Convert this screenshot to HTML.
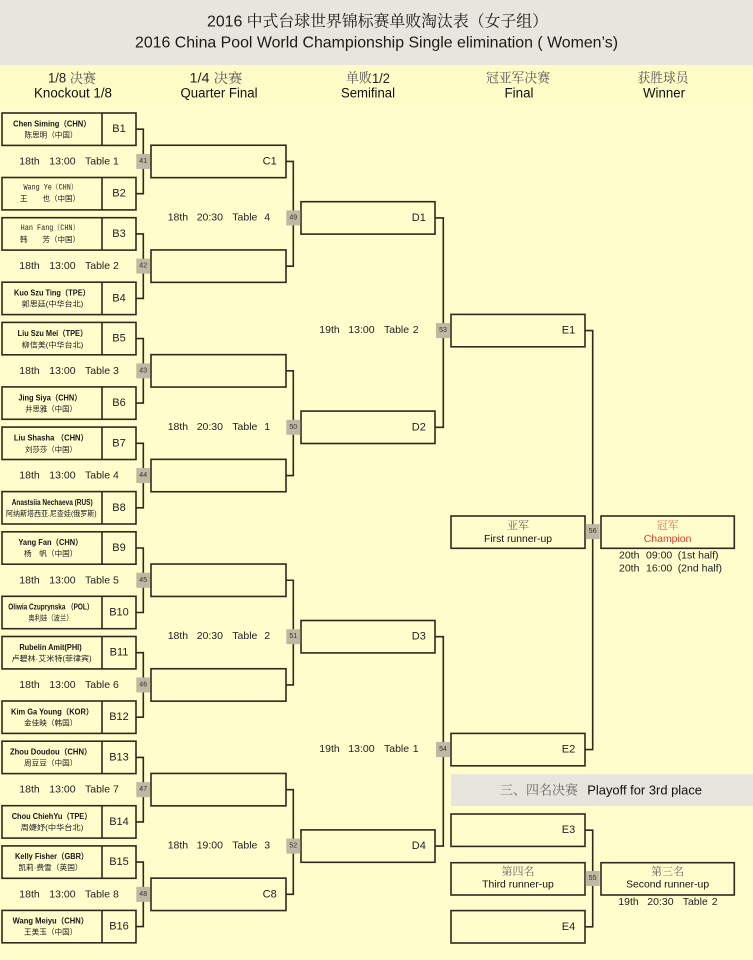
<!DOCTYPE html>
<html><head><meta charset="utf-8">
<style>
html,body{margin:0;padding:0;background:#FFFDCB;}
svg{display:block;}
text{dominant-baseline:central;}
.s{font-family:"Liberation Sans","Noto Sans CJK SC",sans-serif;}
.sf{font-family:"Liberation Sans","Noto Serif CJK SC",serif;}
.n1{font-family:"Liberation Sans","Noto Sans CJK SC",sans-serif;font-weight:bold;font-size:8px;fill:#151515;}
.n2{font-family:"Liberation Sans","Noto Sans CJK SC",sans-serif;font-size:7.5px;fill:#1a1a1a;}
.nm{font-family:"Liberation Mono","Noto Serif CJK SC",monospace;font-size:8px;fill:#222;}
.lb{font-family:"Liberation Sans",sans-serif;font-size:11px;fill:#222;}
.tm{font-family:"Liberation Sans",sans-serif;font-size:10.5px;fill:#222;}
.nb{font-family:"Liberation Sans",sans-serif;font-size:7px;fill:#333;}
.bx{fill:#FFFDCB;stroke:#2d2a1f;stroke-width:1.6;}
.ln{fill:none;stroke:#2d2a1f;stroke-width:1.6;}
.nr{fill:#BFB8A2;}
</style></head>
<body>
<svg width="753" height="960" viewBox="0 0 753 960" xmlns="http://www.w3.org/2000/svg">
<rect x="0" y="0" width="753" height="960" fill="#FFFDCB"/>
<rect x="0" y="0" width="753" height="65" fill="#E8E5DE"/>
<rect x="0" y="65" width="753" height="40" fill="#FEFCC6"/>

<!-- Title -->
<text class="sf" x="207" y="22" font-size="16" fill="#1a1a1a" textLength="341" lengthAdjust="spacingAndGlyphs">2016 中式台球世界锦标赛单败淘汰表（女子组）</text>
<text class="s" x="135" y="43" font-size="16" fill="#1a1a1a" textLength="483" lengthAdjust="spacingAndGlyphs">2016 China Pool World Championship Single elimination ( Women’s)</text>

<!-- Headings -->
<g class="sf" font-size="13.5" text-anchor="middle">
<text x="72" y="78" textLength="48" lengthAdjust="spacingAndGlyphs" fill="#222">1/8 <tspan fill="#555">决赛</tspan></text>
<text x="73" y="93" textLength="78" lengthAdjust="spacingAndGlyphs" fill="#111">Knockout 1/8</text>
<text x="216" y="78" textLength="53" lengthAdjust="spacingAndGlyphs" fill="#222">1/4 <tspan fill="#555">决赛</tspan></text>
<text x="219" y="93" textLength="77" lengthAdjust="spacingAndGlyphs" fill="#111">Quarter Final</text>
<text x="368" y="78" textLength="44" lengthAdjust="spacingAndGlyphs" fill="#555">单败<tspan fill="#222">1/2</tspan></text>
<text x="368" y="93" textLength="54" lengthAdjust="spacingAndGlyphs" fill="#111">Semifinal</text>
<text x="518" y="78" textLength="64" lengthAdjust="spacingAndGlyphs" fill="#555">冠亚军决赛</text>
<text x="519" y="93" textLength="29" lengthAdjust="spacingAndGlyphs" fill="#111">Final</text>
<text x="663" y="78" textLength="51" lengthAdjust="spacingAndGlyphs" fill="#555">获胜球员</text>
<text x="664" y="93" textLength="42" lengthAdjust="spacingAndGlyphs" fill="#111">Winner</text>
</g>

<!-- Level 1 brackets -->
<g class="ln">
<path d="M136 129.2H143.3V193.7H136"/>
<path d="M136 233.9H143.3V298.4H136"/>
<path d="M136 338.6H143.3V403.1H136"/>
<path d="M136 443.3H143.3V507.8H136"/>
<path d="M136 548H143.3V612.5H136"/>
<path d="M136 652.7H143.3V717.2H136"/>
<path d="M136 757.4H143.3V821.9H136"/>
<path d="M136 862.1H143.3V926.6H136"/>
<!-- Level 2 -->
<path d="M286 161.45H293.3V266.15H286"/>
<path d="M286 370.85H293.3V475.55H286"/>
<path d="M286 580.25H293.3V684.95H286"/>
<path d="M286 789.65H293.3V894.35H286"/>
<!-- Level 3 -->
<path d="M435 217.9H443.3V427.3H435"/>
<path d="M435 636.7H443.3V846.1H435"/>
<!-- Level 4 -->
<path d="M585 330.6H592.7V749.6H585"/>
<path d="M585 830.2H592.7V926.8H585"/>
</g>

<!-- B boxes -->
<g class="bx">
<rect x="2" y="113" width="134" height="32.4"/>
<rect x="2" y="177.5" width="134" height="32.4"/>
<rect x="2" y="217.7" width="134" height="32.4"/>
<rect x="2" y="282.2" width="134" height="32.4"/>
<rect x="2" y="322.4" width="134" height="32.4"/>
<rect x="2" y="386.9" width="134" height="32.4"/>
<rect x="2" y="427.1" width="134" height="32.4"/>
<rect x="2" y="491.6" width="134" height="32.4"/>
<rect x="2" y="531.8" width="134" height="32.4"/>
<rect x="2" y="596.3" width="134" height="32.4"/>
<rect x="2" y="636.5" width="134" height="32.4"/>
<rect x="2" y="701" width="134" height="32.4"/>
<rect x="2" y="741.2" width="134" height="32.4"/>
<rect x="2" y="805.7" width="134" height="32.4"/>
<rect x="2" y="845.9" width="134" height="32.4"/>
<rect x="2" y="910.4" width="134" height="32.4"/>
</g>
<g class="ln">
<path d="M102 113V145.4M102 177.5V209.9M102 217.7V250.1M102 282.2V314.6M102 322.4V354.8M102 386.9V419.3M102 427.1V459.5M102 491.6V524M102 531.8V564.2M102 596.3V628.7M102 636.5V668.9M102 701V733.4M102 741.2V773.6M102 805.7V838.1M102 845.9V878.3M102 910.4V942.8"/>
</g>

<!-- C boxes -->
<g class="bx">
<rect x="151" y="145.25" width="135" height="32.4"/>
<rect x="151" y="249.95" width="135" height="32.4"/>
<rect x="151" y="354.65" width="135" height="32.4"/>
<rect x="151" y="459.35" width="135" height="32.4"/>
<rect x="151" y="564.05" width="135" height="32.4"/>
<rect x="151" y="668.75" width="135" height="32.4"/>
<rect x="151" y="773.45" width="135" height="32.4"/>
<rect x="151" y="878.15" width="135" height="32.4"/>
<!-- D boxes -->
<rect x="301" y="201.7" width="134" height="32.4"/>
<rect x="301" y="411.1" width="134" height="32.4"/>
<rect x="301" y="620.5" width="134" height="32.4"/>
<rect x="301" y="829.9" width="134" height="32.4"/>
<!-- E boxes -->
<rect x="451" y="314.4" width="134" height="32.4"/>
<rect x="451" y="733.4" width="134" height="32.4"/>
<rect x="451" y="516" width="134" height="32.3"/>
<rect x="601" y="516" width="133.3" height="32.3"/>
</g>
<rect x="451" y="774.3" width="302" height="31.7" fill="#E6E4DD"/>
<g class="bx">
<rect x="451" y="814" width="134" height="32.4"/>
<rect x="451" y="862.7" width="134" height="32.3"/>
<rect x="451" y="910.6" width="134" height="32.4"/>
<rect x="601" y="862.7" width="133.3" height="32.3"/>
</g>

<!-- Number boxes -->
<g class="nr">
<rect x="136.3" y="153.95" width="13.7" height="15"/>
<rect x="136.3" y="258.65" width="13.7" height="15"/>
<rect x="136.3" y="363.35" width="13.7" height="15"/>
<rect x="136.3" y="468.05" width="13.7" height="15"/>
<rect x="136.3" y="572.75" width="13.7" height="15"/>
<rect x="136.3" y="677.45" width="13.7" height="15"/>
<rect x="136.3" y="782.15" width="13.7" height="15"/>
<rect x="136.3" y="886.85" width="13.7" height="15"/>
<rect x="286.3" y="210.4" width="14" height="15"/>
<rect x="286.3" y="419.8" width="14" height="15"/>
<rect x="286.3" y="629.2" width="14" height="15"/>
<rect x="286.3" y="838.6" width="14" height="15"/>
<rect x="436" y="323.1" width="14" height="15"/>
<rect x="436" y="742.1" width="14" height="15"/>
<rect x="585.7" y="524.1" width="14" height="15"/>
<rect x="585.7" y="871" width="14" height="15"/>
</g>
<g class="nb" text-anchor="middle">
<text x="143.2" y="161.45">41</text>
<text x="143.2" y="266.15">42</text>
<text x="143.2" y="370.85">43</text>
<text x="143.2" y="475.55">44</text>
<text x="143.2" y="580.25">45</text>
<text x="143.2" y="684.95">46</text>
<text x="143.2" y="789.65">47</text>
<text x="143.2" y="894.35">48</text>
<text x="293.3" y="217.9">49</text>
<text x="293.3" y="427.3">50</text>
<text x="293.3" y="636.7">51</text>
<text x="293.3" y="846.1">52</text>
<text x="443" y="330.6">53</text>
<text x="443" y="749.6">54</text>
<text x="592.7" y="531.6">56</text>
<text x="592.7" y="878.5">55</text>
</g>

<!-- B labels -->
<g class="lb" text-anchor="middle">
<text x="119" y="129.2">B1</text>
<text x="119" y="193.7">B2</text>
<text x="119" y="233.9">B3</text>
<text x="119" y="298.4">B4</text>
<text x="119" y="338.6">B5</text>
<text x="119" y="403.1">B6</text>
<text x="119" y="443.3">B7</text>
<text x="119" y="507.8">B8</text>
<text x="119" y="548">B9</text>
<text x="119" y="612.5">B10</text>
<text x="119" y="652.7">B11</text>
<text x="119" y="717.2">B12</text>
<text x="119" y="757.4">B13</text>
<text x="119" y="821.9">B14</text>
<text x="119" y="862.1">B15</text>
<text x="119" y="926.6">B16</text>
<text x="269.7" y="161.45">C1</text>
<text x="269.7" y="894.35">C8</text>
<text x="418.8" y="217.9">D1</text>
<text x="418.8" y="427.3">D2</text>
<text x="418.8" y="636.7">D3</text>
<text x="418.8" y="846.1">D4</text>
<text x="568.5" y="330.6">E1</text>
<text x="568.5" y="749.6">E2</text>
<text x="568.5" y="830.2">E3</text>
<text x="568.5" y="926.8">E4</text>
</g>

<!-- Player names -->
<g text-anchor="middle">
<text class="n1" x="52" y="124" textLength="77.7" lengthAdjust="spacingAndGlyphs">Chen Siming（CHN）</text>
<text class="n2" x="51" y="135" textLength="53" lengthAdjust="spacingAndGlyphs">陈思明（中国）</text>
<text class="nm" x="50.5" y="188" textLength="54" lengthAdjust="spacingAndGlyphs">Wang Ye（CHN）</text>
<text class="n2" x="50" y="198.7" textLength="60" lengthAdjust="spacingAndGlyphs">王　　也（中国）</text>
<text class="nm" x="50" y="228.7" textLength="58.7" lengthAdjust="spacingAndGlyphs">Han Fang（CHN）</text>
<text class="n2" x="50" y="239.7" textLength="60" lengthAdjust="spacingAndGlyphs">韩　　芳（中国）</text>
<text class="n1" x="52" y="293.2" textLength="76" lengthAdjust="spacingAndGlyphs">Kuo Szu Ting（TPE）</text>
<text class="n2" x="52.5" y="304.2" textLength="61.7" lengthAdjust="spacingAndGlyphs">郭思廷(中华台北)</text>
<text class="n1" x="52.5" y="333.6" textLength="69.7" lengthAdjust="spacingAndGlyphs">Liu Szu Mei（TPE）</text>
<text class="n2" x="52.5" y="344.8" textLength="61.7" lengthAdjust="spacingAndGlyphs">柳信美(中华台北)</text>
<text class="n1" x="50" y="398" textLength="63.3" lengthAdjust="spacingAndGlyphs">Jing Siya（CHN）</text>
<text class="n2" x="51" y="409" textLength="51.7" lengthAdjust="spacingAndGlyphs">井思雅（中国）</text>
<text class="n1" x="51" y="438.2" textLength="74.3" lengthAdjust="spacingAndGlyphs">Liu Shasha （CHN）</text>
<text class="n2" x="51" y="449.3" textLength="51.7" lengthAdjust="spacingAndGlyphs">刘莎莎（中国）</text>
<text class="n1" x="52.2" y="502.6" textLength="81" lengthAdjust="spacingAndGlyphs">Anastsiia Nechaeva (RUS)</text>
<text class="n2" x="51.3" y="513.6" textLength="90.7" lengthAdjust="spacingAndGlyphs">阿纳斯塔西亚.尼查娃(俄罗斯)</text>
<text class="n1" x="50.5" y="542.5" textLength="64.3" lengthAdjust="spacingAndGlyphs">Yang Fan（CHN）</text>
<text class="n2" x="50.7" y="553.5" textLength="53.3" lengthAdjust="spacingAndGlyphs">杨　帆（中国）</text>
<text class="n1" x="50.8" y="607" textLength="85" lengthAdjust="spacingAndGlyphs">Oliwia Czuprynska （POL）</text>
<text class="n2" x="50.5" y="618" textLength="44.3" lengthAdjust="spacingAndGlyphs">奥利娃（波兰）</text>
<text class="n1" x="50.5" y="647.3" textLength="62.3" lengthAdjust="spacingAndGlyphs">Rubelin Amit(PHI)</text>
<text class="n2" x="51.7" y="658.5" textLength="80" lengthAdjust="spacingAndGlyphs">卢碧林·艾米特(菲律宾)</text>
<text class="n1" x="52.2" y="712" textLength="82.3" lengthAdjust="spacingAndGlyphs">Kim Ga Young（KOR）</text>
<text class="n2" x="50.7" y="723" textLength="53.3" lengthAdjust="spacingAndGlyphs">金佳映（韩国）</text>
<text class="n1" x="50.8" y="752" textLength="81.7" lengthAdjust="spacingAndGlyphs">Zhou Doudou（CHN）</text>
<text class="n2" x="50.7" y="763" textLength="53.3" lengthAdjust="spacingAndGlyphs">周豆豆（中国）</text>
<text class="n1" x="51.7" y="816.3" textLength="80" lengthAdjust="spacingAndGlyphs">Chou ChiehYu（TPE）</text>
<text class="n2" x="52" y="827.7" textLength="62.7" lengthAdjust="spacingAndGlyphs">周婕妤(中华台北)</text>
<text class="n1" x="51.7" y="856.7" textLength="73.3" lengthAdjust="spacingAndGlyphs">Kelly Fisher（GBR）</text>
<text class="n2" x="50.5" y="867.7" textLength="64.3" lengthAdjust="spacingAndGlyphs">凯莉·费雪（英国）</text>
<text class="n1" x="50.5" y="921" textLength="75.7" lengthAdjust="spacingAndGlyphs">Wang Meiyu（CHN）</text>
<text class="n2" x="50.7" y="932" textLength="53.3" lengthAdjust="spacingAndGlyphs">王美玉（中国）</text>
</g>

<!-- Match times, level 1 -->
<g class="tm">
<text y="161.45"><tspan x="19.3">18th</tspan><tspan x="49.3">13:00</tspan><tspan x="85">Table 1</tspan></text>
<text y="266.15"><tspan x="19.3">18th</tspan><tspan x="49.3">13:00</tspan><tspan x="85">Table 2</tspan></text>
<text y="370.85"><tspan x="19.3">18th</tspan><tspan x="49.3">13:00</tspan><tspan x="85">Table 3</tspan></text>
<text y="475.55"><tspan x="19.3">18th</tspan><tspan x="49.3">13:00</tspan><tspan x="85">Table 4</tspan></text>
<text y="580.25"><tspan x="19.3">18th</tspan><tspan x="49.3">13:00</tspan><tspan x="85">Table 5</tspan></text>
<text y="684.95"><tspan x="19.3">18th</tspan><tspan x="49.3">13:00</tspan><tspan x="85">Table 6</tspan></text>
<text y="789.65"><tspan x="19.3">18th</tspan><tspan x="49.3">13:00</tspan><tspan x="85">Table 7</tspan></text>
<text y="894.35"><tspan x="19.3">18th</tspan><tspan x="49.3">13:00</tspan><tspan x="85">Table 8</tspan></text>
<!-- level 2 -->
<text y="217.4"><tspan x="167.7">18th</tspan><tspan x="196.7">20:30</tspan><tspan x="232.3">Table</tspan><tspan x="264.3">4</tspan></text>
<text y="427"><tspan x="167.7">18th</tspan><tspan x="196.7">20:30</tspan><tspan x="232.3">Table</tspan><tspan x="264.3">1</tspan></text>
<text y="636.2"><tspan x="167.7">18th</tspan><tspan x="196.7">20:30</tspan><tspan x="232.3">Table</tspan><tspan x="264.3">2</tspan></text>
<text y="845.7"><tspan x="167.7">18th</tspan><tspan x="196.7">19:00</tspan><tspan x="232.3">Table</tspan><tspan x="264.3">3</tspan></text>
<!-- level 3 -->
<text y="330"><tspan x="319.3">19th</tspan><tspan x="348.3">13:00</tspan><tspan x="384">Table</tspan><tspan x="412.7">2</tspan></text>
<text y="749"><tspan x="319.3">19th</tspan><tspan x="348.3">13:00</tspan><tspan x="384">Table</tspan><tspan x="412.7">1</tspan></text>
<!-- final -->
<text y="555.3"><tspan x="619">20th</tspan><tspan x="646">09:00</tspan><tspan x="677.7">(1st half)</tspan></text>
<text y="568.3"><tspan x="619">20th</tspan><tspan x="646">16:00</tspan><tspan x="677.7">(2nd half)</tspan></text>
<!-- 3rd place -->
<text y="902"><tspan x="618.3">19th</tspan><tspan x="647.3">20:30</tspan><tspan x="682.7">Table</tspan><tspan x="711.7">2</tspan></text>
</g>

<!-- Result boxes -->
<g text-anchor="middle">
<text class="sf" x="518" y="526" font-size="11" fill="#666">亚军</text>
<text class="s" x="518" y="539" font-size="10.5" fill="#111" textLength="68" lengthAdjust="spacingAndGlyphs">First runner-up</text>
<text class="sf" x="667.6" y="526" font-size="11" fill="#e2705c">冠军</text>
<text class="s" x="667.6" y="539" font-size="10.5" fill="#e0392b" textLength="47.7" lengthAdjust="spacingAndGlyphs">Champion</text>
<text class="sf" x="518" y="872" font-size="11" fill="#666">第四名</text>
<text class="s" x="518" y="884.7" font-size="10.5" fill="#111" textLength="71.7" lengthAdjust="spacingAndGlyphs">Third runner-up</text>
<text class="sf" x="667.6" y="872" font-size="11" fill="#666">第三名</text>
<text class="s" x="667.6" y="884.7" font-size="10.5" fill="#111" textLength="83" lengthAdjust="spacingAndGlyphs">Second runner-up</text>
</g>

<!-- Playoff band text -->
<text class="sf" x="500" y="790" font-size="13" fill="#666" textLength="78" lengthAdjust="spacingAndGlyphs">三、四名决赛</text>
<text class="s" x="587.3" y="790" font-size="13" fill="#111" textLength="114.7" lengthAdjust="spacingAndGlyphs">Playoff for 3rd place</text>
</svg>
</body></html>
